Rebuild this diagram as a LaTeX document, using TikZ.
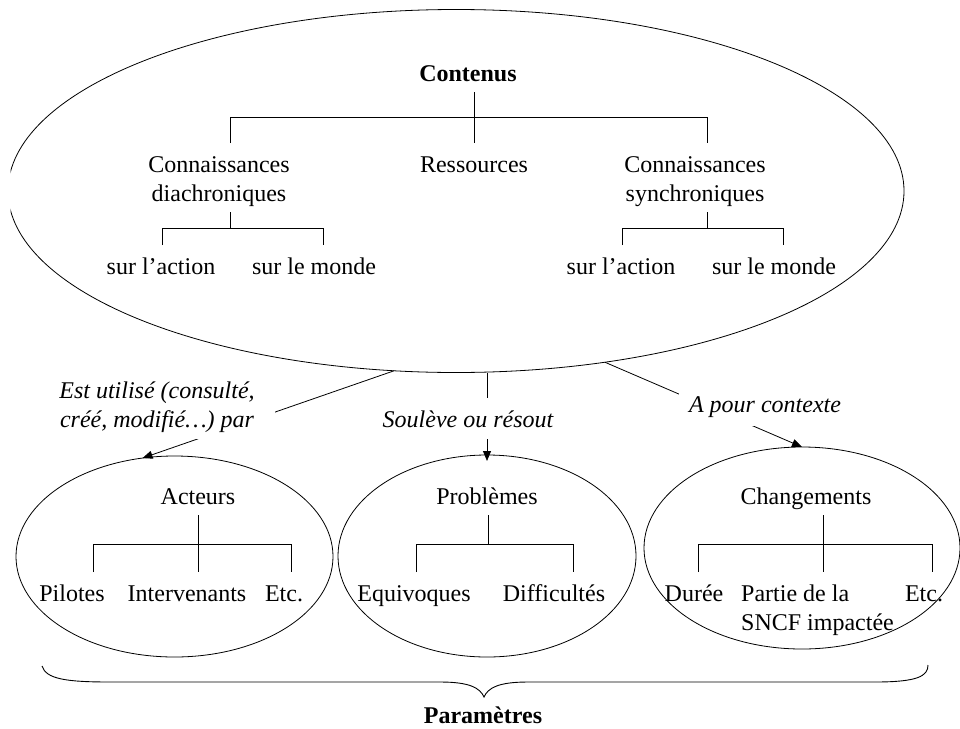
\documentclass[tikz,border=0pt]{standalone}
\usepackage{fontspec}
\setmainfont{Liberation Serif}
\usetikzlibrary{shapes.geometric,arrows.meta}
\newcommand\fsz{\fontsize{24}{29}\selectfont}
\begin{document}
\begin{tikzpicture}[x=1pt,y=-1pt,
  txt/.style={font=\fsz, inner sep=0pt, anchor=base},
  boldtxt/.style={txt, font=\fsz\bfseries},
  lab/.style={txt, font=\fsz\itshape, fill=white, inner ysep=9pt},
  oval/.style={draw, ellipse, inner sep=0pt, outer sep=0pt, line width=0.8pt},
  tree/.style={line width=0.9pt},
  arr/.style={line width=0.8pt, -{Triangle[length=10pt,width=8pt]}}
]
\useasboundingbox (0,0) rectangle (960,728);
\clip (10.5,0) rectangle (960,728);

% ovals
\node[oval, minimum width=896, minimum height=363] (big) at (456,191) {};
\node[oval, minimum width=317, minimum height=201] (act) at (174.5,556.5) {};
\node[oval, minimum width=298, minimum height=202] (prob) at (487,556) {};
\node[oval, minimum width=316, minimum height=202] (chg) at (802,548) {};

% Contenus tree
\node[boldtxt] (contenus) at (468,81) {Contenus};
\node[txt] (diach) at (219,172) {\begin{tabular}[t]{@{}c@{}}Connaissances\\diachroniques\end{tabular}};
\node[txt] (ress) at (474,172) {Ressources};
\node[txt] (synch) at (695,172) {\begin{tabular}[t]{@{}c@{}}Connaissances\\synchroniques\end{tabular}};
\node[txt] (d1) at (161,274) {sur l’action};
\node[txt] (d2) at (314,274) {sur le monde};
\node[txt] (s1) at (621,274) {sur l’action};
\node[txt] (s2) at (774,274) {sur le monde};

\draw[tree] (474,92) -- (474,143) (230,143) |- (707,117) -- (707,143);
\draw[tree] (230,212) -- (230,228) (162,245) |- (323,228) -- (323,245);
\draw[tree] (707,212) -- (707,228) (622,245) |- (783,228) -- (783,245);

% Acteurs
\node[txt] (acteurs) at (198,504) {Acteurs};
\node[txt] (pil) at (72,601) {Pilotes};
\node[txt] (inter) at (187,601) {Intervenants};
\node[txt] (etc1) at (284,601) {Etc.};
\draw[tree] (198,515) -- (198,572) (93,572) |- (291,544) -- (291,572);

% Problemes
\node[txt] (problemes) at (487,504) {Problèmes};
\node[txt] (equi) at (414,601) {Equivoques};
\node[txt] (diff) at (554,601) {Difficultés};
\draw[tree] (488,515) -- (488,544) (416,572) |- (573,544) -- (573,572);

% Changements
\node[txt] (changements) at (806,504) {Changements};
\node[txt] (duree) at (694,601) {Durée};
\node[txt, anchor=base west] (partie) at (741,601) {\begin{tabular}[t]{@{}l@{}}Partie de la\\SNCF impactée\end{tabular}};
\node[txt] (etc2) at (924,601) {Etc.};
\draw[tree] (823,515) -- (823,572) (698,572) |- (932,544) -- (932,572);

% arrows
\draw[arr] (big.251.5) -- (act.108);
\draw[arr] (prob.north |- big.south) -- ([yshift=-6pt]prob.north);
\draw[arr] (big.311) -- (chg.north);

% labels
\node[lab, inner xsep=20pt, inner ysep=3pt] (l1) at (157,398) {\begin{tabular}[t]{@{}c@{}}Est utilisé (consulté,\\créé, modifié…) par\end{tabular}};
\node[lab, inner xsep=4pt, inner ysep=12pt] (l2) at (468,427) {Soulève ou résout};
\node[lab, inner xsep=10pt] (l3) at (765,412) {A pour contexte};

% brace
\draw[tree] (42,666) .. controls (46,679) and (66,682) .. (110,682) -- (440,682)
  .. controls (470,682) and (480,688) .. (484,697)
  .. controls (488,688) and (498,682) .. (528,682) -- (875,682)
  .. controls (918,682) and (928,676) .. (928,665);
\node[boldtxt] (param) at (483,723) {Paramètres};
\end{tikzpicture}
\end{document}
